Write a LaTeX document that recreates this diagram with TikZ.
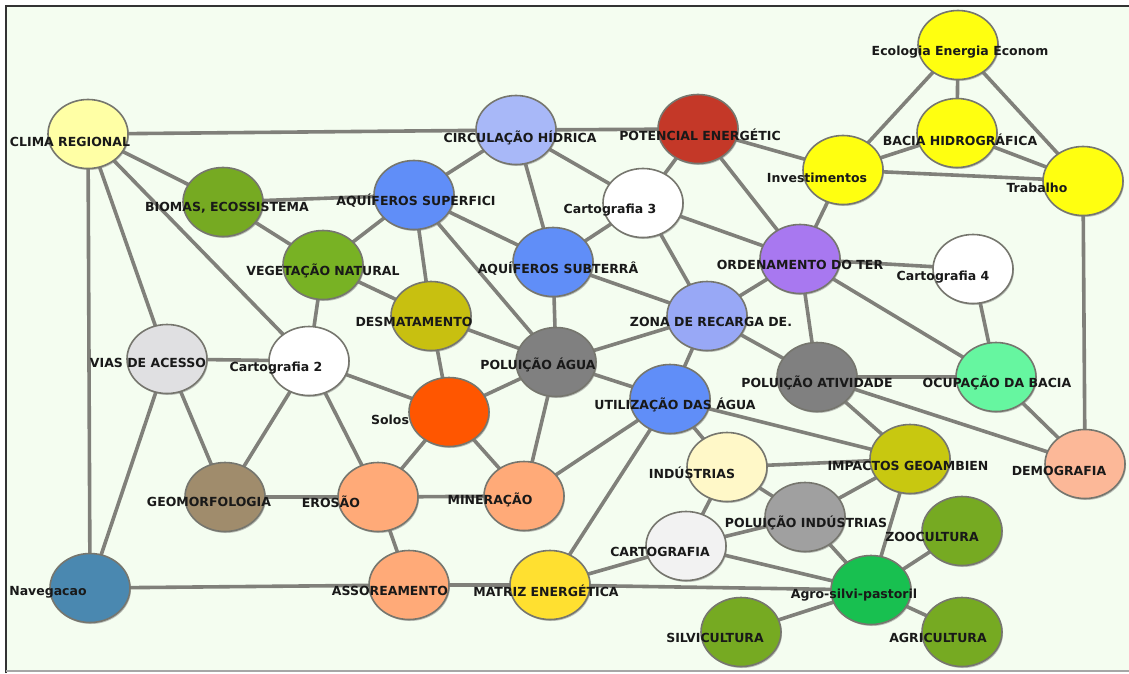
\documentclass[tikz,border=0pt]{standalone}
\usepackage{fontspec}
\setmainfont{DejaVu Sans}
\usetikzlibrary{shapes.geometric,shadows}
\pgfdeclarelayer{back}
\pgfdeclarelayer{bg}
\pgfsetlayers{back,bg,main}
\definecolor{paper}{RGB}{244,253,240}
\definecolor{edgec}{RGB}{128,128,122}
\definecolor{rimc}{RGB}{118,118,110}
\definecolor{cClima}{RGB}{255,255,165}
\definecolor{cGreen}{RGB}{118,170,34}
\definecolor{cVeg}{RGB}{120,178,36}
\definecolor{cBlue}{RGB}{96,142,248}
\definecolor{cPeri}{RGB}{168,184,248}
\definecolor{cPeri2}{RGB}{152,168,246}
\definecolor{cRed}{RGB}{196,56,40}
\definecolor{cPurple}{RGB}{168,120,240}
\definecolor{cYellow}{RGB}{255,255,16}
\definecolor{cMint}{RGB}{102,246,160}
\definecolor{cSalmon}{RGB}{252,184,152}
\definecolor{cGray}{RGB}{128,128,128}
\definecolor{cGray2}{RGB}{160,160,160}
\definecolor{cLight}{RGB}{224,224,226}
\definecolor{cOlive}{RGB}{200,192,16}
\definecolor{cOlive2}{RGB}{200,200,16}
\definecolor{cOrange}{RGB}{255,86,0}
\definecolor{cBrown}{RGB}{160,140,108}
\definecolor{cPeach}{RGB}{255,170,120}
\definecolor{cSteel}{RGB}{74,136,176}
\definecolor{cGold}{RGB}{255,224,48}
\definecolor{cCream}{RGB}{255,248,200}
\definecolor{cWhite2}{RGB}{242,242,242}
\definecolor{cAgro}{RGB}{24,192,80}
\tikzset{
  ball/.style={ellipse, minimum width=80pt, minimum height=69pt, inner sep=0pt,
    draw=rimc, line width=1.6pt, fill=#1,
    drop shadow={shadow xshift=1pt, shadow yshift=-1.5pt, fill=gray, opacity=0.5}},
  lbl/.style={inner sep=0pt, text=black!90, font=\bfseries\fontsize{12.5}{13}\selectfont},
  link/.style={draw=edgec, line width=3.6pt}
}
\begin{document}
\begin{tikzpicture}[x=1pt,y=-1pt]
\useasboundingbox (0,0) rectangle (1129,673);
\begin{pgfonlayer}{back}
\fill[white] (0,0) rectangle (1129,673);
\fill[paper] (6,6) rectangle (1129,671);
\draw[black!80, line width=2pt] (6,673) -- (6,6) -- (1129,6);
\draw[gray!70, line width=2pt] (6,671) -- (1129,671);
\end{pgfonlayer}
% nodes
\node[ball=cClima]  (clima)  at (88,134)  {};
\node[ball=cGreen]  (biomas) at (223,202) {};
\node[ball=cVeg]    (veg)    at (323,265) {};
\node[ball=cBlue]   (aqsup)  at (414,195) {};
\node[ball=cPeri]   (circ)   at (516,130) {};
\node[ball=cRed]    (pot)    at (698,129) {};
\node[ball=white]   (cart3)  at (643,203) {};
\node[ball=cBlue]   (aqsub)  at (553,262) {};
\node[ball=cPurple] (ord)    at (800,259) {};
\node[ball=cYellow] (inv)    at (843,170) {};
\node[ball=cYellow] (eco)    at (958,45)  {};
\node[ball=cYellow] (bacia)  at (957,133) {};
\node[ball=cYellow] (trab)   at (1083,181) {};
\node[ball=white]   (cart4)  at (973,269) {};
\node[ball=cMint]   (ocup)   at (996,377) {};
\node[ball=cSalmon] (demo)   at (1085,464) {};
\node[ball=cGray]   (polat)  at (817,377) {};
\node[ball=cPeri2]  (zona)   at (707,316) {};
\node[ball=cBlue]   (util)   at (670,399) {};
\node[ball=cGray]   (polag)  at (556,362) {};
\node[ball=cOlive]  (desm)   at (431,316) {};
\node[ball=white]   (cart2)  at (309,361) {};
\node[ball=cLight]  (vias)   at (167,359) {};
\node[ball=cOrange] (solos)  at (449,412) {};
\node[ball=cBrown]  (geo)    at (225,497) {};
\node[ball=cPeach]  (eros)   at (378,497) {};
\node[ball=cPeach]  (miner)  at (524,496) {};
\node[ball=cPeach]  (assor)  at (409,585) {};
\node[ball=cSteel]  (nav)    at (90,588)  {};
\node[ball=cGold]   (matriz) at (550,585) {};
\node[ball=cCream]  (ind)    at (727,467) {};
\node[ball=cGray2]  (polind) at (805,517) {};
\node[ball=cOlive2] (imp)    at (910,459) {};
\node[ball=cWhite2] (cartog) at (686,546) {};
\node[ball=cAgro]   (agro)   at (871,590) {};
\node[ball=cGreen]  (zoo)    at (962,531) {};
\node[ball=cGreen]  (agri)   at (962,632) {};
\node[ball=cGreen]  (silv)   at (741,632) {};
% connectors
\begin{pgfonlayer}{bg}
\foreach \a/\b in {clima/circ, circ/pot, clima/biomas, clima/cart2, clima/vias, clima/nav,
  biomas/aqsup, biomas/veg, veg/aqsup, veg/desm, veg/cart2,
  aqsup/circ, aqsup/desm, aqsup/aqsub, aqsup/polag,
  circ/aqsub, circ/cart3, cart3/pot, cart3/aqsub, cart3/zona, cart3/ord,
  pot/ord, pot/inv, ord/inv, ord/cart4, ord/ocup, ord/polat, ord/zona,
  inv/eco, inv/bacia, inv/trab, eco/bacia, eco/trab, bacia/trab, trab/demo,
  cart4/ocup, ocup/polat, ocup/demo, polat/demo, polat/imp, polat/zona,
  zona/aqsub, zona/polag, zona/util,
  util/polag, util/miner, util/matriz, util/ind, util/imp,
  ind/imp, ind/cartog, ind/polind, polind/imp, polind/cartog, polind/agro, imp/agro,
  polag/aqsub, polag/desm, polag/solos, polag/miner, desm/solos,
  cart2/vias, cart2/solos, cart2/geo, cart2/eros, vias/geo, vias/nav,
  solos/eros, solos/miner, geo/eros, eros/miner, eros/assor,
  nav/assor, assor/matriz, matriz/agro, matriz/cartog, cartog/agro,
  agro/zoo, agro/agri, agro/silv}
  \draw[link] (\a.center) -- (\b.center);
\end{pgfonlayer}
% labels
\node[lbl] (l-clima)  at (70,142)  {CLIMA REGIONAL};
\node[lbl] (l-biomas) at (227,208) {BIOMAS, ECOSSISTEMA};
\node[lbl] (l-veg)    at (323,271) {VEGETAÇÃO NATURAL};
\node[lbl] (l-aqsup)  at (416,201) {AQUÍFEROS SUPERFICI};
\node[lbl] (l-circ)   at (520,138) {CIRCULAÇÃO HÍDRICA};
\node[lbl] (l-pot)    at (700,135) {POTENCIAL ENERGÉTIC};
\node[lbl] (l-cart3)  at (610,210) {Cartografia 3};
\node[lbl] (l-aqsub)  at (558,269) {AQUÍFEROS SUBTERRÂ};
\node[lbl] (l-ord)    at (800,265) {ORDENAMENTO DO TER};
\node[lbl] (l-inv)    at (817,178) {Investimentos};
\node[lbl] (l-eco)    at (960,52)  {Ecologia Energia Econom};
\node[lbl] (l-bacia)  at (960,140) {BACIA HIDROGRÁFICA};
\node[lbl] (l-trab)   at (1037,188) {Trabalho};
\node[lbl] (l-cart4)  at (943,277) {Cartografia 4};
\node[lbl] (l-ocup)   at (997,383) {OCUPAÇÃO DA BACIA};
\node[lbl] (l-demo)   at (1059,471) {DEMOGRAFIA};
\node[lbl] (l-polat)  at (817,383) {POLUIÇÃO ATIVIDADE};
\node[lbl] (l-zona)   at (711,322) {ZONA DE RECARGA DE.};
\node[lbl] (l-util)   at (675,405) {UTILIZAÇÃO DAS ÁGUA};
\node[lbl] (l-polag)  at (538,365) {POLUIÇÃO ÁGUA};
\node[lbl] (l-desm)   at (414,322) {DESMATAMENTO};
\node[lbl] (l-cart2)  at (276,368) {Cartografia 2};
\node[lbl] (l-vias)   at (148,363) {VIAS DE ACESSO};
\node[lbl] (l-solos)  at (390,420) {Solos};
\node[lbl] (l-geo)    at (209,502) {GEOMORFOLOGIA};
\node[lbl] (l-eros)   at (331,502) {EROSÃO};
\node[lbl] (l-miner)  at (490,500) {MINERAÇÃO};
\node[lbl] (l-assor)  at (390,591) {ASSOREAMENTO};
\node[lbl] (l-nav)    at (48,592)  {Navegacao};
\node[lbl] (l-matriz) at (546,591) {MATRIZ ENERGÉTICA};
\node[lbl] (l-ind)    at (692,473) {INDÚSTRIAS};
\node[lbl] (l-polind) at (806,523) {POLUIÇÃO INDÚSTRIAS};
\node[lbl] (l-imp)    at (908,466) {IMPACTOS GEOAMBIEN};
\node[lbl] (l-cartog) at (660,552) {CARTOGRAFIA};
\node[lbl] (l-agro)   at (854,595) {Agro-silvi-pastoril};
\node[lbl] (l-zoo)    at (932,537) {ZOOCULTURA};
\node[lbl] (l-agri)   at (938,638) {AGRICULTURA};
\node[lbl] (l-silv)   at (715,638) {SILVICULTURA};
\end{tikzpicture}
\end{document}
